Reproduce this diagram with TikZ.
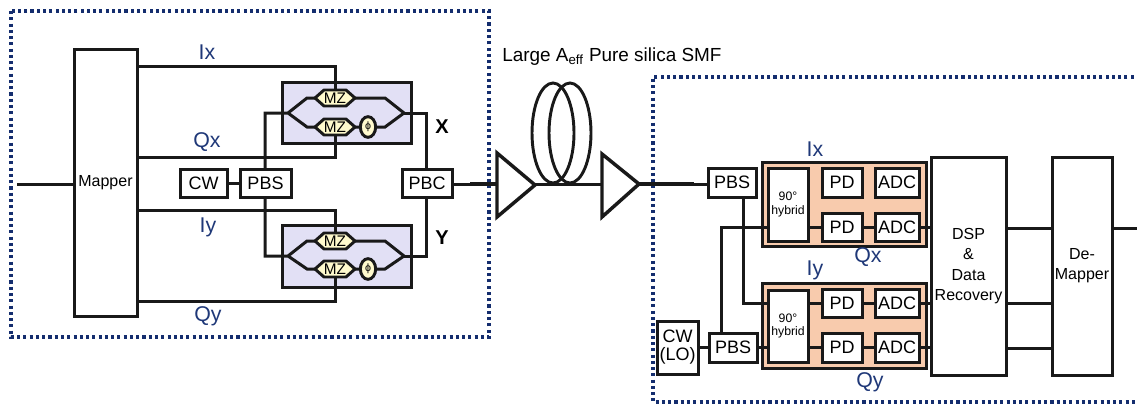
\documentclass[tikz,border=0pt]{standalone}
\usepackage{fontspec}
\setmainfont{Liberation Sans}
\usetikzlibrary{shapes.geometric,positioning,calc}
\definecolor{navy}{RGB}{31,56,120}
\definecolor{dotnavy}{RGB}{20,45,110}
\definecolor{lilac}{RGB}{226,224,245}
\definecolor{peach}{RGB}{248,203,173}
\definecolor{cream}{RGB}{255,250,205}
\newcommand{\pxfs}[1]{\fontsize{#1}{#1}\selectfont}
\tikzset{
  x=0.75pt,y=-0.75pt,
  wire/.style={line width=2.25pt,black!90},
  thick wire/.style={line width=2.8pt,black!90},
  blockbox/.style={draw=black!90,line width=2.25pt,fill=white,inner sep=0pt,align=center,anchor=center,font=\pxfs{13.5}},
  bigblock/.style={font=\pxfs{12}},
  panel/.style={draw=black!90,line width=2.25pt,inner sep=0pt},
  phase/.style={draw=black!90,line width=2.2pt,fill=cream,ellipse,inner sep=0pt,minimum width=11.5pt,minimum height=15.5pt,font=\pxfs{8}},
  dotbox/.style={draw=dotnavy,line width=2.3pt,dash pattern=on 2.3pt off 2.4pt},
  siglabel/.style={text=navy,font=\pxfs{16},inner sep=0pt},
  pollabel/.style={font=\bfseries\pxfs{15},inner sep=0pt},
  amp/.style={draw=black!90,line width=2.6pt,fill=white,line join=miter}
}
\newcommand{\bx}[7][]{\node[blockbox,minimum width={(#5-#4)*0.75pt},minimum height={(#7-#6)*0.75pt},#1] (#2) at ({(#4+#5)/2},{(#6+#7)/2}) {#3};}
\newcommand{\mzh}[3]{\path[draw=black!90,line width=2.2pt,fill=cream,line join=round] (#2-20,#3) -- (#2-11,#3-8) -- (#2+11,#3-8) -- (#2+20,#3) -- (#2+11,#3+8) -- (#2-11,#3+8) -- cycle;
  \node[inner sep=0pt,minimum width=30pt,minimum height=12pt,font=\pxfs{11.5}] (#1) at (#2,#3) {MZ};}
\begin{document}
\begin{tikzpicture}
\useasboundingbox (0,0) rectangle (1137,403);
% dotted panels
\draw[dotbox] (11,11) rectangle (489,337);
\draw[dotbox] (1140,77) -- (653,77) -- (653,402) -- (1140,402);
% transmitter
\bx[bigblock]{mapper}{Mapper}{74}{137}{50}{316}
\coordinate (txin) at (17,184);
\draw[wire] (txin) -- (mapper.west |- txin);
\node[panel,fill=lilac,minimum width={129*0.75pt},minimum height={61*0.75pt}] (modx) at (346.5,112.5) {};
\node[panel,fill=lilac,minimum width={129*0.75pt},minimum height={62*0.75pt}] (mody) at (346.5,256) {};
\bx{cwt}{CW}{180}{227}{169}{197}
\bx{pbst}{PBS}{240}{291}{169}{197}
\bx{pbc}{PBC}{402}{452}{169}{197}
\draw[wire] (cwt) -- (pbst);
\coordinate (xl) at (288,113); \coordinate (xr) at (404,113);
\coordinate (yl) at (288,256); \coordinate (yr) at (404,256);
\draw[wire] (265,169) -- (265,113) -- (xl) -- (307,98) -- (385,98) -- (xr) -- (385,127) -- (307,127) -- (xl);
\draw[wire] (xr) -- (426,113) -- (426,169);
\draw[wire] (265,197) -- (265,256) -- (yl) -- (307,241) -- (385,241) -- (yr) -- (385,269) -- (307,269) -- (yl);
\draw[wire] (yr) -- (426,256) -- (426,197);
\mzh{mz1}{335}{98} \mzh{mz2}{335}{127} \mzh{mz3}{335}{241} \mzh{mz4}{335}{269}
\node[phase] (ph1) at (368,127) {ϕ};
\node[phase] (ph2) at (368,269) {ϕ};
\draw[wire] (137,67) -- (335,67) -- (335,90);
\draw[wire] (137,157) -- (335,157) -- (335,135);
\draw[wire] (137,210) -- (335,210) -- (335,233);
\draw[wire] (137,301) -- (335,301) -- (335,277);
\node[siglabel] at (207,52) {Ix};
\node[siglabel] at (207,142) {Qx};
\node[siglabel] at (208,227) {Iy};
\node[siglabel] at (208,316) {Qy};
\node[pollabel] at (442,127) {X};
\node[pollabel] at (442,238) {Y};
% amplifier chain
\node[font=\pxfs{14.2},inner sep=0pt,anchor=west] (fibre) at (502,57) {Large A\textsubscript{eff} Pure silica SMF};
\draw[line width=2.2pt,black!90] (553,133) ellipse [x radius=21,y radius=50];
\draw[line width=2.2pt,black!90] (570,133) ellipse [x radius=21,y radius=50];
\draw[amp] (497,153) -- (497,217) -- (535,185) -- cycle;
\draw[amp] (602,154) -- (602,217) -- (639,184) -- cycle;
\coordinate (a1in) at (497,184); \coordinate (a1out) at (535,184);
\coordinate (a2in) at (602,184); \coordinate (a2out) at (639,184);
\draw[wire] (pbc.east |- a1in) -- (a1in);
\draw[thick wire] (470,184) -- (a1in);
\draw[wire] (a1out) -- (a2in);
\bx{pbsa}{PBS}{708}{756}{168}{197}
\draw[wire] (a2out) -- (pbsa.west |- a2out);
\draw[thick wire] (a2out) -- (694,184);
% receiver
\node[panel,fill=peach,minimum width={164*0.75pt},minimum height={84*0.75pt}] (orx) at (844,204) {};
\node[panel,fill=peach,minimum width={164*0.75pt},minimum height={85*0.75pt}] (ory) at (844,325.5) {};
\bx[bigblock]{dsp}{DSP\\[3.2pt]\&\\[3.2pt]Data\\[3.2pt]Recovery}{931}{1006}{157}{375}
\bx[bigblock]{demap}{De-\\[3.2pt]Mapper}{1052}{1112}{157}{375}
\bx[font=\pxfs{9.2}]{hyba}{90°\\[1pt]hybrid}{768}{808}{168}{241}
\bx[font=\pxfs{9.2}]{hybb}{90°\\[1pt]hybrid}{768}{808}{290}{362}
\bx{pda}{PD}{822}{862}{168}{197}
\bx{adca}{ADC}{875}{919}{168}{197}
\bx{pdb}{PD}{822}{862}{213}{241}
\bx{adcb}{ADC}{875}{919}{213}{241}
\bx{pdc}{PD}{822}{862}{289}{317}
\bx{adcc}{ADC}{875}{919}{289}{317}
\bx{pdd}{PD}{822}{862}{333}{362}
\bx{adcd}{ADC}{875}{919}{333}{362}
\bx{cwl}{CW\\(LO)}{657}{698}{321}{374}
\bx{pbsb}{PBS}{709}{757}{333}{362}
\draw[wire] (hyba.east |- pdb) -- (pdb); \draw[wire] (pdb) -- (adcb); \draw[wire] (adcb) -- (dsp.west |- adcb);
\draw[wire] (hybb.east |- pdc) -- (pdc); \draw[wire] (pdc) -- (adcc); \draw[wire] (adcc) -- (dsp.west |- adcc);
\draw[wire] (hybb.east |- pdd) -- (pdd); \draw[wire] (pdd) -- (adcd); \draw[wire] (adcd) -- (dsp.west |- adcd);
\draw[wire] (cwl.east |- pbsb) -- (pbsb);
\draw[wire] (pbsb) -- (hybb.west |- pbsb);
\draw[wire] (721,333) -- (721,227) -- (768,227);
\draw[wire] (743,197) -- (743,303) -- (768,303);
\draw[wire] (1006,228) -- (1052,228);
\draw[wire] (1006,303) -- (1052,303);
\draw[wire] (1006,348) -- (1052,348);
\coordinate (rxout) at (1137,228);
\draw[wire] (1112,228) -- (rxout);
\node[siglabel] at (815,149) {Ix};
\node[siglabel] at (868,257) {Qx};
\node[siglabel] at (815,270) {Iy};
\node[siglabel] at (870,382) {Qy};
\end{tikzpicture}
\end{document}
